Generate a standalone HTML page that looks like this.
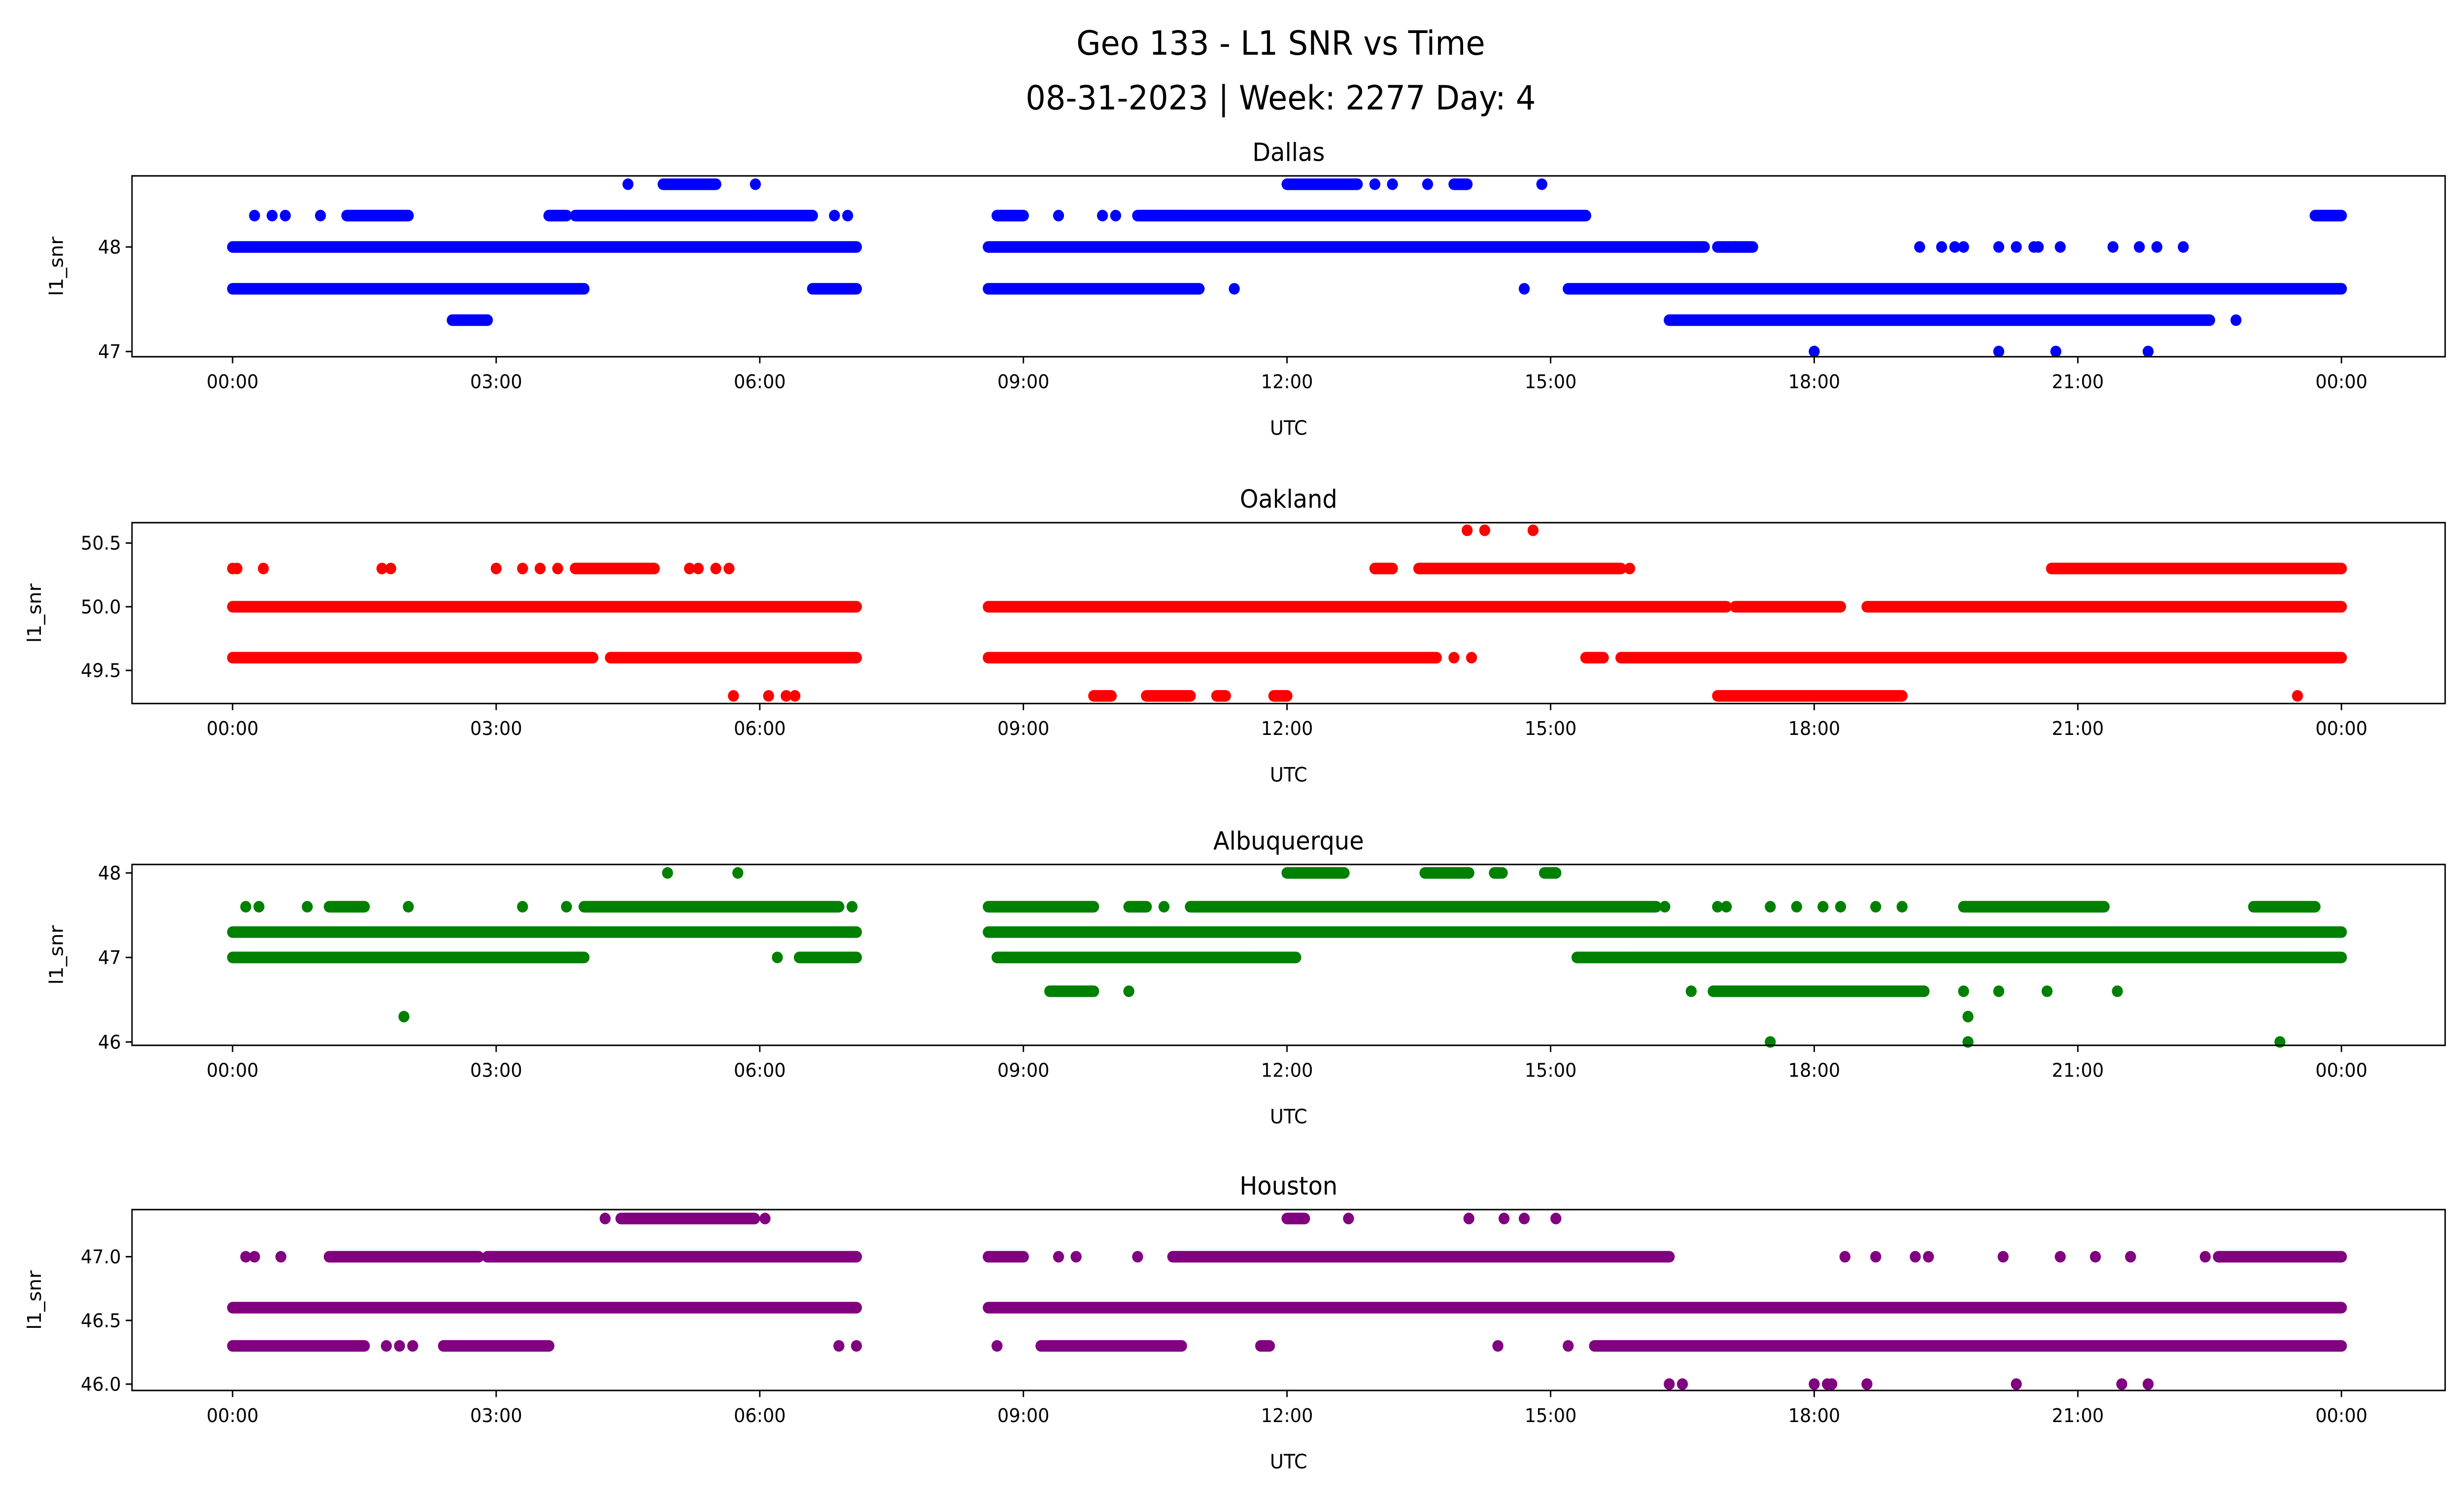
<!DOCTYPE html>
<html><head><meta charset="utf-8"><style>
html,body{margin:0;padding:0;background:#fff;overflow:hidden;width:100%;height:100%}
svg{display:block;width:100vw;height:100vh}
text{font-family:"DejaVu Sans","Liberation Sans",sans-serif;fill:#000}
</style></head><body>
<svg id="chart" viewBox="0 0 1568 901" preserveAspectRatio="none" xmlns="http://www.w3.org/2000/svg">
<text x="815" y="33" font-size="20" text-anchor="middle">Geo 133 - L1 SNR vs Time</text>
<text x="815" y="66" font-size="20" text-anchor="middle">08-31-2023 | Week: 2277 Day: 4</text>
</svg>
<script>
// Data: each level -> runs [startHour, endHour] and single points (hours UTC)
const stations = ["Dallas","Oakland","Albuquerque","Houston"];
const colors = ["#0000ff","#ff0000","#008000","#800080"];
const xTickLabels = ["00:00","03:00","06:00","09:00","12:00","15:00","18:00","21:00","00:00"];
const dallasTicks = [47,48];
const oaklandTicks = [49.5,50.0,50.5];
const albuquerqueTicks = [46,47,48];
const houstonTicks = [46.0,46.5,47.0];

const dallasSeries = [
 {v:48.0, runs:[[0,7.1],[8.6,16.75],[16.9,17.3]], pts:[16.5,17.1,19.2,19.45,19.6,19.7,20.1,20.3,20.5,20.55,20.8,21.4,21.7,21.9,22.2]},
 {v:47.6, runs:[[0,4.0],[6.6,7.1],[8.6,11.0],[15.2,24]], pts:[11.4,14.7]},
 {v:48.3, runs:[[1.3,2.0],[3.6,3.8],[3.9,6.6],[8.7,9.0],[10.3,15.4],[23.7,24]], pts:[0.25,0.45,0.6,1.0,6.85,7.0,9.4,9.9,10.05]},
 {v:48.6, runs:[[4.9,5.5],[12.0,12.8],[13.9,14.05]], pts:[4.5,5.95,13.0,13.2,13.6,14.9]},
 {v:47.3, runs:[[2.5,2.9],[16.35,22.5]], pts:[22.8]},
 {v:47.0, runs:[], pts:[18.0,20.1,20.75,21.8]}
];
const oaklandSeries = [
 {v:50.0, runs:[[0,7.1],[8.6,17.0],[17.1,18.3],[18.6,24]], pts:[]},
 {v:49.6, runs:[[0,4.1],[4.3,7.1],[8.6,13.7],[15.4,15.6],[15.8,24]], pts:[13.9,14.1,23.9]},
 {v:50.3, runs:[[3.9,4.8],[13.0,13.2],[13.5,15.8],[20.7,24]], pts:[0,0.05,0.35,1.7,1.8,3.0,3.3,3.5,3.7,5.2,5.3,5.5,5.65,15.9]},
 {v:50.6, runs:[], pts:[14.05,14.25,14.8]},
 {v:49.3, runs:[[9.8,10.0],[10.4,10.9],[11.2,11.3],[11.85,12.0],[16.9,19.0]], pts:[5.7,6.1,6.3,6.4,23.5]}
];
const albuquerqueSeries = [
 {v:47.3, runs:[[0,7.1],[8.6,24]], pts:[]},
 {v:47.0, runs:[[0,4.0],[6.45,7.1],[8.7,12.1],[15.3,24]], pts:[6.2]},
 {v:47.6, runs:[[1.1,1.5],[4.0,6.9],[8.6,9.8],[10.2,10.4],[10.9,16.2],[19.7,21.3],[23.0,23.7]], pts:[0.15,0.3,0.85,2.0,3.3,3.8,7.05,10.6,16.3,16.9,17.0,17.5,17.8,18.1,18.3,18.7,19.0]},
 {v:48.0, runs:[[12.0,12.65],[13.57,14.07],[14.36,14.45],[14.93,15.06]], pts:[4.95,5.75]},
 {v:46.6, runs:[[9.3,9.8],[16.85,19.25]], pts:[10.2,16.6,19.7,20.1,20.65,21.45]},
 {v:46.3, runs:[], pts:[1.95,19.75]},
 {v:46.0, runs:[], pts:[17.5,19.75,23.3]}
];
const houstonSeries = [
 {v:46.6, runs:[[0,7.1],[8.6,24]], pts:[]},
 {v:46.3, runs:[[0,1.5],[2.4,3.6],[9.2,10.8],[11.7,11.8],[15.5,24]], pts:[1.75,1.9,2.05,6.9,7.1,8.7,14.4,15.2]},
 {v:47.0, runs:[[1.1,2.8],[2.9,7.1],[8.6,9.0],[10.7,16.35],[22.6,24]], pts:[0.15,0.25,0.55,9.4,9.6,10.3,18.35,18.7,19.15,19.3,20.15,20.8,21.2,21.6,22.45]},
 {v:47.3, runs:[[4.42,5.94],[12.0,12.2]], pts:[4.24,6.06,12.7,14.07,14.47,14.7,15.06]},
 {v:46.0, runs:[], pts:[16.35,16.5,18.0,18.15,18.2,18.6,20.3,21.5,21.8]}
];
const allSeries = [dallasSeries,oaklandSeries,albuquerqueSeries,houstonSeries];
const allTicks = [dallasTicks,oaklandTicks,albuquerqueTicks,houstonTicks];
const yDomains = [[46.95,48.68],[49.24,50.66],[45.96,48.1],[45.95,47.37]];

const NS="http://www.w3.org/2000/svg";
const svg=document.getElementById('chart');
const AX_L=84, AX_R=1556, X0=148, X24=1490;
const panelTops=[106,315,521,729], PH=109;
function xScale(h){return X0+h*(X24-X0)/24;}
function mk(tag,attrs,parent){const e=document.createElementNS(NS,tag);for(const k in attrs)e.setAttribute(k,attrs[k]);(parent||svg).appendChild(e);return e;}

stations.forEach((name,i)=>{
 const top=panelTops[i], bot=top+PH, dom=yDomains[i];
 const yScale=v=>bot-(v-dom[0])/(dom[1]-dom[0])*PH;
 const g=mk('g',{});
 
 
 const t=mk('text',{x:(AX_L+AX_R)/2,y:top-9,'font-size':'15','text-anchor':'middle'},g);
 t.textContent=name;
 
 
 const marks=mk('g',{fill:colors[i],stroke:colors[i]},g);
 
 
 allSeries[i].forEach(s=>{
  const y=yScale(s.v);
  s.runs.forEach(r=>{
   const l=mk('line',{x1:xScale(r[0]),x2:xScale(r[1]),y1:y,y2:y,'stroke-width':7,'stroke-linecap':'round'},marks);
   
   
  });
  s.pts.forEach(p=>{
   const c=mk('circle',{cx:xScale(p),cy:y,r:3.5,stroke:'none'},marks);
   
   
  });
 });
 const fr=mk('rect',{x:AX_L,y:top,width:AX_R-AX_L,height:PH,fill:'none',stroke:'#000','stroke-width':0.9},g);
 
 
 xTickLabels.forEach((lab,k)=>{
  const x=xScale(k*3);
  mk('line',{x1:x,x2:x,y1:bot,y2:bot+4,stroke:'#000','stroke-width':0.9},g);
  const tx=mk('text',{x:x,y:bot+19,'font-size':'11.5','text-anchor':'middle'},g);
  tx.textContent=lab;
  
  
 });
 allTicks[i].forEach(v=>{
  const y=yScale(v);
  mk('line',{x1:AX_L-4,x2:AX_L,y1:y,y2:y,stroke:'#000','stroke-width':0.9},g);
  const ty=mk('text',{x:AX_L-7,y:y+4,'font-size':'11.5','text-anchor':'end'},g);
  ty.textContent=(i===0||i===2)?String(v):v.toFixed(1);
  
  
 });
 const xl=mk('text',{x:(AX_L+AX_R)/2,y:bot+47,'font-size':'12','text-anchor':'middle'},g);
 xl.textContent='UTC';
 
 
 const yl=mk('text',{x:0,y:0,'font-size':'12','text-anchor':'middle',transform:'translate('+(i===0||i===2?40:26)+','+(top+PH/2)+') rotate(-90)'},g);
 yl.textContent='l1_snr';
 
 
});
</script>
</body></html>
